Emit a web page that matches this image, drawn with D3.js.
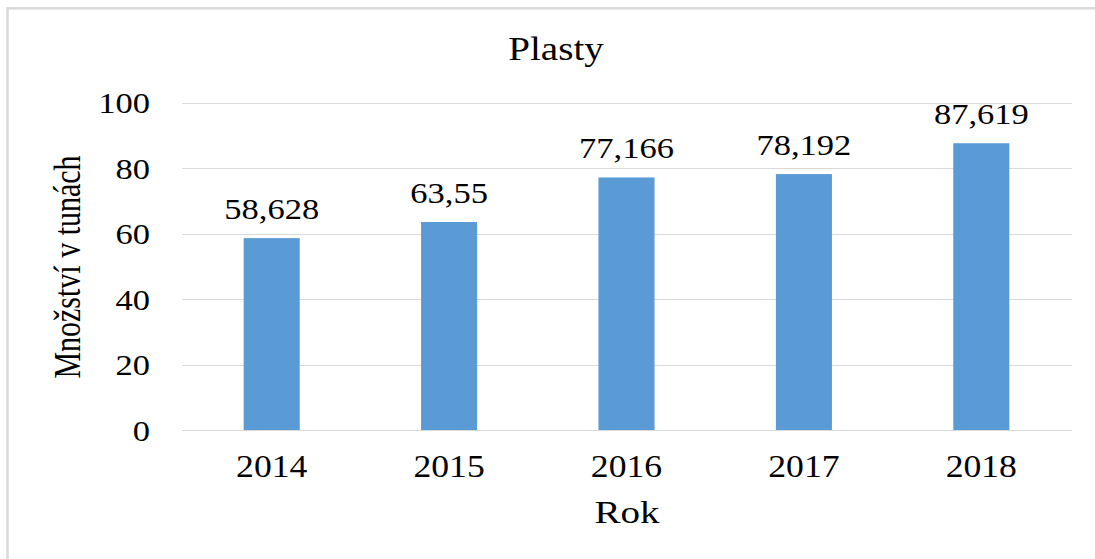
<!DOCTYPE html>
<html>
<head>
<meta charset="utf-8">
<script src="https://cdn.jsdelivr.net/npm/d3@7"></script>
<style>
  html, body { margin: 0; padding: 0; background: #fff; }
  svg { display: block; }
  text { font-family: "Liberation Serif", "Times New Roman", serif; fill: #000; }
</style>
</head>
<body>
<svg id="chart" width="1095" height="559"></svg>
<script>
const categories = ["2014", "2015", "2016", "2017", "2018"];
const values = [58.628, 63.55, 77.166, 78.192, 87.619];
const valueLabels = ["58,628", "63,55", "77,166", "78,192", "87,619"];
const yTicks = [0, 20, 40, 60, 80, 100];
const chartTitle = "Plasty";
const xTitle = "Rok";
const yTitle = "Množství v tunách";

const W = 1095, H = 559;
const SX = 1.15;
const svg = d3.select("#chart");

// outer border (only top/left visible)
svg.append("rect")
  .attr("x", 7.5).attr("y", 8.3)
  .attr("width", W + 20).attr("height", H + 20)
  .attr("fill", "none").attr("stroke", "#d9d9d9").attr("stroke-width", 2.5);

const plotLeft = 182, plotRight = 1072;
const x = d3.scaleBand().domain(categories).range([183, 1070])
  .paddingInner(0.684).paddingOuter(0.342);
const y = d3.scaleLinear().domain([0, 100]).range([430, 102.7]);

// gridlines
svg.append("g").selectAll("line").data(yTicks).join("line")
  .attr("x1", plotLeft).attr("x2", plotRight)
  .attr("y1", d => Math.round(y(d)) + 0.5).attr("y2", d => Math.round(y(d)) + 0.5)
  .attr("stroke", "#d9d9d9").attr("stroke-width", 1);

// y tick labels
svg.append("g").selectAll("text").data(yTicks).join("text")
  .attr("transform", d => `translate(150,${y(d) + 10.5}) scale(${SX},1)`)
  .attr("text-anchor", "end")
  .attr("font-size", 30)
  .text(d => d);

// bars
svg.append("g").selectAll("rect").data(values).join("rect")
  .attr("x", (d, i) => x(categories[i]))
  .attr("width", x.bandwidth())
  .attr("y", d => y(d))
  .attr("height", d => y(0) - y(d))
  .attr("fill", "#5B9BD5");

// data labels
svg.append("g").selectAll("text").data(values).join("text")
  .attr("transform", (d, i) => `translate(${x(categories[i]) + x.bandwidth() / 2},${y(d) - 19}) scale(${SX},1)`)
  .attr("text-anchor", "middle")
  .attr("font-size", 30)
  .text((d, i) => valueLabels[i]);

// x tick labels
svg.append("g").selectAll("text").data(categories).join("text")
  .attr("transform", d => `translate(${x(d) + x.bandwidth() / 2},477) scale(${SX},1)`)
  .attr("text-anchor", "middle")
  .attr("font-size", 31)
  .text(d => d);

// title
svg.append("text")
  .attr("transform", `translate(556,60) scale(${SX},1)`)
  .attr("text-anchor", "middle")
  .attr("font-size", 34)
  .text(chartTitle);

// x axis title
svg.append("text")
  .attr("transform", `translate(627,523) scale(1.22,1)`)
  .attr("text-anchor", "middle")
  .attr("font-size", 32)
  .text(xTitle);

// y axis title
svg.append("text")
  .attr("transform", `translate(80,267) scale(1.25,1) rotate(-90)`)
  .attr("text-anchor", "middle")
  .attr("font-size", 30)
  .text(yTitle);
</script>
</body>
</html>
